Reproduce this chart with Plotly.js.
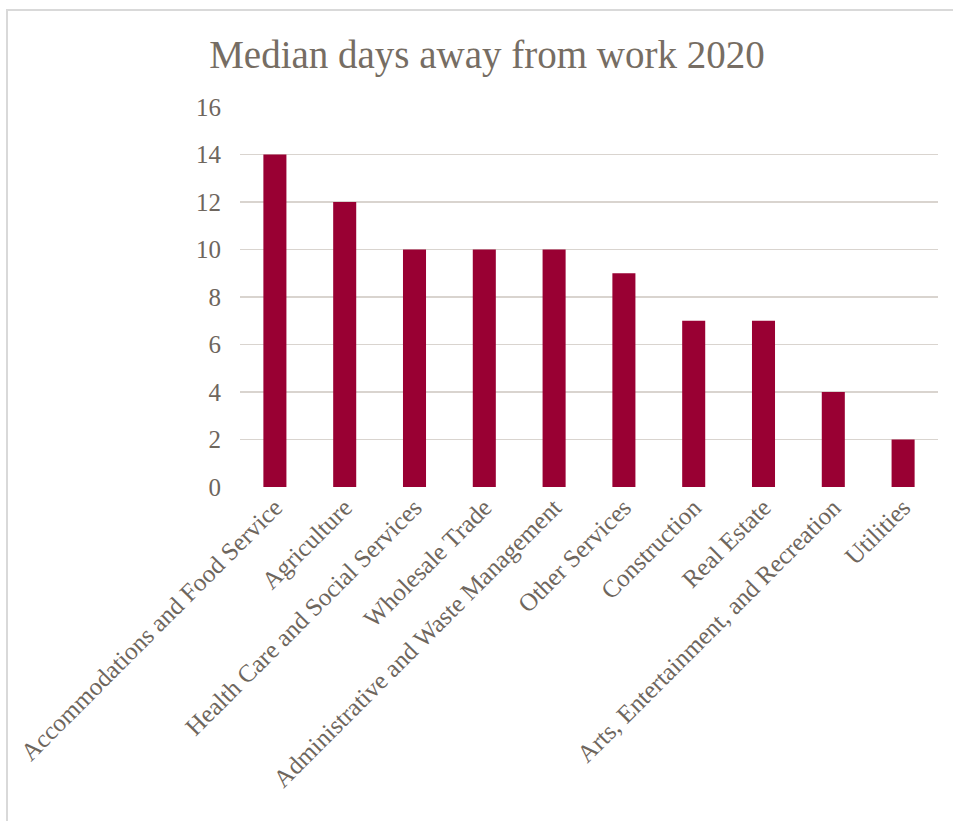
<!DOCTYPE html>
<html>
<head>
<meta charset="utf-8">
<script src="https://cdn.plot.ly/plotly-3.0.1.min.js"></script>
<style>
  html, body { margin: 0; padding: 0; background: #ffffff; }
  #frame { position: absolute; left: 6px; top: 9px; width: 960px; height: 830px;
           border-top: 2px solid #d9d9d9; border-left: 2px solid #d9d9d9; box-sizing: border-box; }
  #chart { position: absolute; left: 0; top: 0; width: 953px; height: 821px; }
</style>
</head>
<body>
<div id="frame"></div>
<div id="chart"></div>
<script>
const categories = [
  "Accommodations and Food Service",
  "Agriculture",
  "Health Care and Social Services",
  "Wholesale Trade",
  "Administrative and Waste Management",
  "Other Services",
  "Construction",
  "Real Estate",
  "Arts, Entertainment, and Recreation",
  "Utilities"
];
const medianDays = [14, 12, 10, 10, 10, 9, 7, 7, 4, 2];
const yTickValues = [0, 2, 4, 6, 8, 10, 12, 14, 16];
const chartTitle = "Median days away from work 2020";

const textColor = "#6e665d";
const fontFamily = "'Liberation Serif', 'DejaVu Serif', serif";

const trace = {
  type: "bar",
  x: categories,
  y: medianDays,
  marker: { color: "#990033" },
  hoverinfo: "x+y"
};

const layout = {
  width: 953,
  height: 821,
  paper_bgcolor: "rgba(0,0,0,0)",
  plot_bgcolor: "rgba(0,0,0,0)",
  margin: { l: 240, r: 15, t: 107, b: 334 },
  bargap: 0.67,
  showlegend: false,
  title: {
    text: chartTitle,
    font: { family: fontFamily, size: 39, color: "#766d63" },
    x: 0.511, xref: "container", xanchor: "center",
    y: 0.934, yref: "container", yanchor: "middle"
  },
  xaxis: {
    type: "category",
    tickangle: -45,
    tickfont: { family: fontFamily, size: 25, color: textColor },
    showgrid: false,
    showline: false,
    zeroline: false,
    ticks: "",
    automargin: false
  },
  yaxis: {
    range: [0, 16],
    tickvals: yTickValues,
    ticktext: yTickValues.map(String),
    tickfont: { family: fontFamily, size: 25, color: textColor },
    showgrid: true,
    gridcolor: "#d9d4cf",
    gridwidth: 1.6,
    zeroline: false,
    showline: false,
    ticks: "",
    ticklabelstandoff: 18,
    automargin: false
  }
};

Plotly.newPlot("chart", [trace], layout, { displayModeBar: false, staticPlot: true });
</script>
</body>
</html>
